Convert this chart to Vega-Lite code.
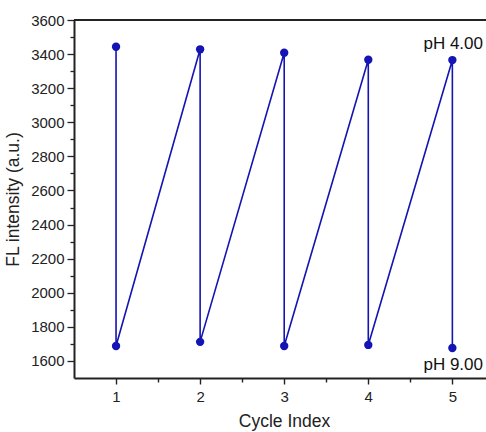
{
  "$schema": "https://vega.github.io/schema/vega-lite/v6.json",
  "autosize": "none",
  "width": 412,
  "height": 358,
  "padding": {"left": 74, "top": 20, "right": 0, "bottom": 54},
  "background": "white",
  "config": {
    "view": {"stroke": null},
    "font": "Liberation Sans",
    "axis": {"grid": false, "domainColor": "#222", "tickColor": "#222", "labelColor": "#222", "titleColor": "#222", "labelFont": "Liberation Sans", "titleFont": "Liberation Sans", "titleFontWeight": "normal", "labelOverlap": false}
  },
  "datasets": {
    "pts": [
      {"cycle": 1, "intensity": 3443, "step": 1},
      {"cycle": 1, "intensity": 1688, "step": 2},
      {"cycle": 2, "intensity": 3428, "step": 3},
      {"cycle": 2, "intensity": 1712, "step": 4},
      {"cycle": 3, "intensity": 3408, "step": 5},
      {"cycle": 3, "intensity": 1688, "step": 6},
      {"cycle": 4, "intensity": 3367, "step": 7},
      {"cycle": 4, "intensity": 1694, "step": 8},
      {"cycle": 5, "intensity": 3365, "step": 9},
      {"cycle": 5, "intensity": 1676, "step": 10}
    ],
    "labels": [
      {"cycle": 5.4, "intensity": 3462, "label": "pH 4.00"},
      {"cycle": 5.4, "intensity": 1576, "label": "pH 9.00"}
    ]
  },
  "encoding": {
    "x": {
      "field": "cycle", "type": "quantitative",
      "scale": {"domain": [0.5, 5.4], "nice": false, "zero": false},
      "axis": {
        "title": "Cycle Index", "titleFontSize": 17.5, "titleX": 210, "titlePadding": 8,
        "values": [1, 1.5, 2, 2.5, 3, 3.5, 4, 4.5, 5],
        "labelExpr": "datum.value % 1 === 0 ? datum.value : ''",
        "labelOverlap": false, "labelFontSize": 15, "labelPadding": 5,
        "tickSize": {"condition": {"test": "datum.value % 1 === 0", "value": 6}, "value": 4},
        "domainWidth": 2, "tickWidth": 1.4
      }
    },
    "y": {
      "field": "intensity", "type": "quantitative",
      "scale": {"domain": [1500, 3600], "nice": false, "zero": false},
      "axis": {
        "title": "FL intensity (a.u.)", "titleFontSize": 17.5, "titlePadding": 8,
        "values": [1600, 1700, 1800, 1900, 2000, 2100, 2200, 2300, 2400, 2500, 2600, 2700, 2800, 2900, 3000, 3100, 3200, 3300, 3400, 3500, 3600],
        "labelExpr": "datum.value % 200 === 0 ? datum.value : ''",
        "labelOverlap": false, "labelFontSize": 15, "labelPadding": 3,
        "tickSize": {"condition": {"test": "datum.value % 200 === 0", "value": 7}, "value": 4},
        "domainWidth": 2, "tickWidth": 1.3
      }
    }
  },
  "layer": [
    {
      "data": {"name": "pts"},
      "mark": {"type": "line", "color": "#1414B4", "strokeWidth": 1.6},
      "encoding": {
        "order": {"field": "step", "type": "quantitative"}
      }
    },
    {
      "data": {"name": "pts"},
      "mark": {"type": "point", "filled": true, "opacity": 1, "color": "#1414B4", "size": 70}
    },
    {
      "data": {"name": "labels"},
      "mark": {"type": "text", "align": "right", "baseline": "middle", "fontSize": 17, "color": "#111", "dx": -3},
      "encoding": {
        "text": {"field": "label"}
      }
    },
    {
      "data": {"values": [{"intensity": 3600}]},
      "mark": {"type": "rule", "color": "#222", "strokeWidth": 1.8},
      "encoding": {
        "x": null
      }
    }
  ]
}
